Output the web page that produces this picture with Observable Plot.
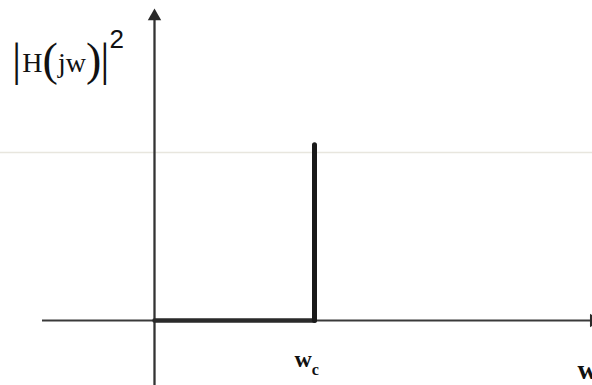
<!DOCTYPE html>
<html>
<head>
<meta charset="utf-8">
<script src="https://cdn.jsdelivr.net/npm/d3@7"></script>
<script src="https://cdn.jsdelivr.net/npm/@observablehq/plot@0.6"></script>
<style>
  html, body { margin: 0; padding: 0; background: #fff; }
  #chart svg { display: block; }
</style>
</head>
<body>
<div id="chart"></div>
<script>
// Ideal low-pass |H(jw)|^2 sketch (normalised units: wc = 1, passband level = 1)
const responseX = [0, 1, 1];
const responseY = [0, 0, 1.01];
const passLevel = [0.966];            // faint horizontal guide
const xAxisRange = [-0.7, 2.746];     // horizontal axis from .. to (arrow head)
const yAxisRange = [-0.4, 1.748];     // vertical axis from .. to (arrow head)
const wcLabel = {x: 0.875, y: -0.225};
const wLabel = {x: 2.644, y: -0.282};
const yLabel = {x: -0.89, y: 1.477};

const response = responseX.map((x, i) => ({x, y: responseY[i]}));

const plot = Plot.plot({
  width: 592,
  height: 385,
  margin: 0,
  x: {domain: [-154 / 160, 438 / 160], axis: null},
  y: {domain: [-65 / 174, 320 / 174], axis: null},
  marks: [
    Plot.ruleY(passLevel, {stroke: "#e8e6de", strokeWidth: 1.5}),
    // axes
    Plot.ruleY([0], {x1: xAxisRange[0], x2: xAxisRange[1], stroke: "#3a3a3a", strokeWidth: 2.2}),
    Plot.ruleX([0], {y1: yAxisRange[0], y2: yAxisRange[1], stroke: "#333", strokeWidth: 2.3}),
    Plot.dot([{x: xAxisRange[1], y: 0}], {x: "x", y: "y", symbol: "triangle", r: 5, rotate: 90, fill: "#2a2a2a", stroke: "none"}),
    Plot.dot([{x: 0, y: yAxisRange[1]}], {x: "x", y: "y", symbol: "triangle", r: 5, fill: "#2a2a2a", stroke: "none"}),
    // response
    Plot.line(response.slice(0, 2), {x: "x", y: "y", stroke: "#2a2a2a", strokeWidth: 4.5}),
    Plot.line(response.slice(1), {x: "x", y: "y", stroke: "#1a1a1a", strokeWidth: 5, strokeLinecap: "round"}),
    // labels
    Plot.text([wcLabel], {x: "x", y: "y", text: () => "w", className: "wc",
      fontFamily: "Liberation Serif", fontWeight: "bold", fontSize: 24, textAnchor: "start", fill: "#111"}),
    Plot.text([wLabel], {x: "x", y: "y", text: () => "w",
      fontFamily: "Liberation Serif", fontWeight: "bold", fontSize: 28, textAnchor: "start", fill: "#111"}),
    Plot.text([yLabel], {x: "x", y: "y", text: () => "|H(jw)|2", className: "ylab",
      fontFamily: "Liberation Serif", fontSize: 28, textAnchor: "start", fill: "#111"})
  ]
});

// rich text: tall delimiters, superscript and subscript
const svg = d3.select(plot);
svg.select(".ylab text").each(function () {
  const t = d3.select(this).text("");
  const big = 46, drop = 3;
  t.append("tspan").attr("font-size", big).attr("dy", drop).text("|");
  t.append("tspan").attr("dy", -drop).attr("dx", 1).text("H");
  t.append("tspan").attr("font-size", big).attr("dy", drop).text("(");
  t.append("tspan").attr("dy", -drop).text("jw");
  t.append("tspan").attr("font-size", big).attr("dy", drop).text(")");
  t.append("tspan").attr("font-size", big).attr("dx", -1).text("|");
  t.append("tspan").attr("font-size", 26).attr("font-family", "Liberation Sans").attr("dx", 0).attr("dy", -27).text("2");
});
svg.select(".wc text").each(function () {
  d3.select(this).append("tspan").attr("font-size", 16).attr("dy", 8).text("c");
});

document.getElementById("chart").appendChild(plot);
</script>
</body>
</html>
